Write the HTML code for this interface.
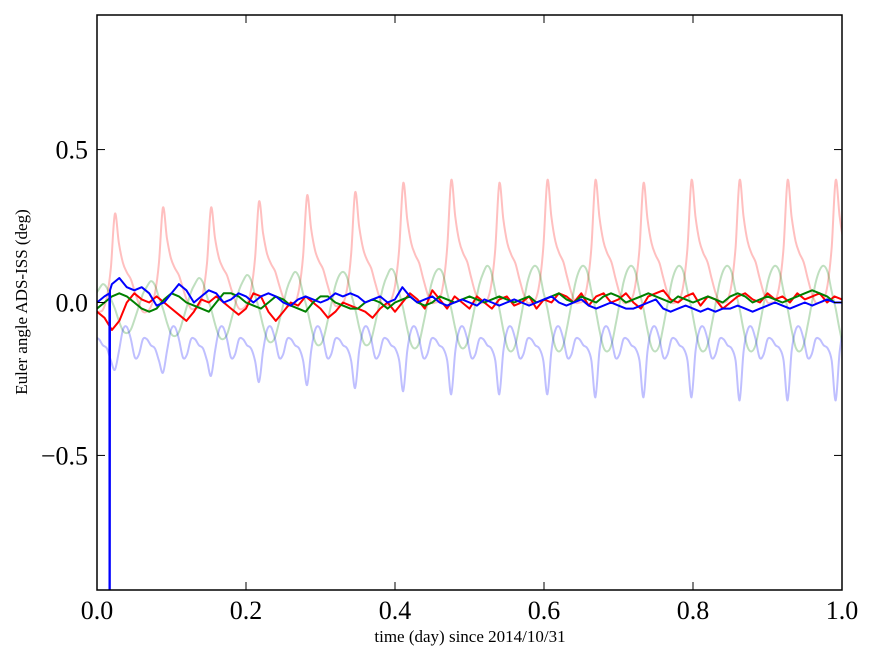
<!DOCTYPE html>
<html><head><meta charset="utf-8"><style>
html,body{margin:0;padding:0;background:#fff;}
svg{display:block;font-family:"Liberation Serif",serif;}
</style></head><body>
<svg id="chart" width="875" height="662">
<defs><clipPath id="plotclip"><rect x="97" y="15" width="745" height="575"/></clipPath></defs>
<rect x="0" y="0" width="875" height="662" fill="#fff"/>
<g id="series" clip-path="url(#plotclip)"></g>
<g id="axes"></g>
<text x="470" y="642" text-anchor="middle" font-size="17">time (day) since 2014/10/31</text>
<text transform="translate(27,302) rotate(-90)" text-anchor="middle" font-size="17">Euler angle ADS-ISS (deg)</text>
</svg>
<script>
const xTicks=[0,0.2,0.4,0.6,0.8,1.0];
const xTickLabels=["0.0","0.2","0.4","0.6","0.8","1.0"];
const yTicks=[0.5,0,-0.5];
const yTickLabels=["0.5","0.0","\u22120.5"];
const orbitPeriod=0.0645;
const firstPeak=0.024;
const redShape=[0.02,0.15,0.45,1.0,0.7,0.5,0.4,0.33,0.2,0.08,0.0,0.0];
const redPeaks=[0.28,0.29,0.31,0.31,0.33,0.35,0.36,0.39,0.40,0.39,0.40,0.40,0.39,0.40,0.40,0.40,0.40,0.40];
const redTroughs=[-0.03,-0.03,-0.02,-0.02,-0.01,-0.01,-0.01,0,0,0,0,0,0,0,0,0,0,0];
const greenShape=[1,0.85,0.4,0.0,-0.5,-0.9,-1,-0.85,-0.4,0.1,0.6,0.9];
const greenAmps=[0.07,0.08,0.09,0.1,0.11,0.12,0.12,0.13,0.13,0.14,0.14,0.14,0.14,0.14,0.14,0.14,0.14,0.14];
const greenCenter=-0.02;
const blueShape=[-0.14,-0.15,-0.19,-0.22,-0.16,-0.09,-0.08,-0.12,-0.18,-0.17,-0.12,-0.12];
const blueDips=[-0.21,-0.22,-0.23,-0.24,-0.26,-0.27,-0.28,-0.29,-0.3,-0.3,-0.3,-0.31,-0.31,-0.31,-0.32,-0.32,-0.32,-0.32];
const redDark=[-0.03,-0.05,-0.09,-0.06,0.0,0.03,0.01,0.0,0.02,0.0,-0.02,-0.04,-0.06,-0.03,0.01,0.0,0.02,0.0,-0.02,-0.04,-0.02,0.03,0.02,-0.03,-0.06,-0.03,0.0,-0.01,0.02,0.0,-0.02,-0.05,-0.03,0.0,-0.01,-0.02,-0.03,-0.05,-0.02,0.0,-0.03,0.0,0.03,0.01,-0.02,0.04,0.01,-0.02,0.02,0.0,-0.02,0.02,0.0,-0.02,0.01,0.02,-0.01,0.0,0.02,-0.02,0.01,0.0,0.03,0.02,0.0,0.03,-0.01,0.02,0.03,0.0,0.01,0.03,0.0,-0.02,0.02,0.03,0.04,0.01,0.0,0.02,0.03,-0.01,0.02,0.01,-0.02,0.0,0.02,0.03,0.01,0.0,0.03,0.01,0.02,0.0,0.03,0.01,0.02,0.03,0.0,0.02,0.01];
const greenDark=[-0.02,0.0,0.02,0.03,0.02,0.0,-0.02,-0.03,-0.02,0.01,0.03,0.02,0.0,-0.01,-0.02,-0.03,0.0,0.03,0.03,0.02,0.0,-0.01,-0.02,0.0,0.02,0.01,-0.01,-0.02,-0.03,0.0,0.02,0.02,0.0,-0.01,-0.02,-0.02,0.0,0.01,0.0,-0.02,0.0,0.01,0.02,0.0,-0.01,0.0,0.02,0.01,0.0,0.01,0.02,0.01,0.0,0.01,0.02,0.01,0.0,0.01,0.02,0.0,0.01,0.02,0.03,0.01,0.0,0.02,0.01,0.0,0.02,0.03,0.02,0.0,0.01,0.02,0.03,0.02,0.01,0.0,0.02,0.01,0.0,0.01,0.02,0.01,0.0,0.02,0.03,0.02,0.0,0.01,0.02,0.01,0.0,0.01,0.02,0.03,0.04,0.03,0.02,0.0,0.0];
const blueDark=[0.0,0.02,0.06,0.08,0.05,0.04,0.05,0.03,-0.01,0.0,0.03,0.06,0.04,0.0,0.02,0.04,0.03,0.0,0.01,0.03,0.02,0.0,0.02,0.03,0.02,0.0,-0.01,0.01,0.02,0.01,0.0,0.01,0.03,0.02,0.03,0.02,0.0,0.01,0.02,0.0,0.01,0.05,0.02,0.0,0.01,0.02,0.0,-0.01,0.0,0.01,0.0,-0.01,0.01,0.0,-0.01,0.0,0.01,0.0,-0.01,0.0,0.01,0.02,0.0,-0.01,0.0,0.01,-0.01,-0.02,-0.01,0.0,-0.01,-0.02,-0.02,-0.01,0.0,0.01,-0.02,-0.03,-0.02,-0.01,-0.02,-0.03,-0.02,-0.03,-0.02,-0.02,-0.01,-0.02,-0.03,-0.02,-0.01,0.0,-0.01,-0.02,-0.01,0.0,-0.01,0.0,0.01,0.0,0.0];
const spikeT=[0.0166,0.0168,0.0172,0.0174];
const spikeV=[0.03,-1.0,-1.0,0.04];

const X0=97,X1=842,Y0=15,Y1=590,yMin=-0.94,yMax=0.94;
function xs(t){return X0+(X1-X0)*t;}
function ys(v){return Y1-(Y1-Y0)*(v-yMin)/(yMax-yMin);}
const NS="http://www.w3.org/2000/svg";
const gS=document.getElementById('series'),gA=document.getElementById('axes');
function poly(pts,color,op,name){
  const p=document.createElementNS(NS,'polyline');
  p.setAttribute('points',pts.map(q=>xs(q[0]).toFixed(1)+','+ys(q[1]).toFixed(1)).join(' '));
  p.setAttribute('fill','none');p.setAttribute('stroke',color);p.setAttribute('stroke-width','2');
  p.setAttribute('stroke-opacity',op);p.setAttribute('stroke-linejoin','round');
  
  
  gS.appendChild(p);
}
function smooth(pts,color,op,name){
  const P=pts.map(q=>[xs(q[0]),ys(q[1])]);
  let d='M'+P[0][0].toFixed(1)+','+P[0][1].toFixed(1);
  for(let i=0;i<P.length-1;i++){
    const p0=P[Math.max(0,i-1)],p1=P[i],p2=P[i+1],p3=P[Math.min(P.length-1,i+2)];
    const c1=[p1[0]+(p2[0]-p0[0])/6,p1[1]+(p2[1]-p0[1])/6];
    const c2=[p2[0]-(p3[0]-p1[0])/6,p2[1]-(p3[1]-p1[1])/6];
    d+='C'+c1[0].toFixed(1)+','+c1[1].toFixed(1)+' '+c2[0].toFixed(1)+','+c2[1].toFixed(1)+' '+p2[0].toFixed(1)+','+p2[1].toFixed(1);
  }
  const p=document.createElementNS(NS,'path');
  p.setAttribute('d',d);p.setAttribute('fill','none');p.setAttribute('stroke',color);
  p.setAttribute('stroke-width','2');p.setAttribute('stroke-opacity',op);
  
  
  gS.appendChild(p);
}
function orbitSeries(fn){
  const pts=[];
  for(let k=0;k<redPeaks.length;k++){
    for(let j=0;j<12;j++){
      const t=firstPeak+(k-1)*orbitPeriod+(j-3)*orbitPeriod/12;
      pts.push([t,fn(k,j)]);
    }
  }
  return pts;
}
smooth(orbitSeries((k,j)=>redTroughs[k]+(redPeaks[k]-redTroughs[k])*redShape[j]),'#ff0000',0.25,'faint-red-series');
smooth(orbitSeries((k,j)=>greenCenter+greenAmps[k]*greenShape[j]),'#008000',0.25,'faint-green-series');
smooth(orbitSeries((k,j)=>j===3?blueDips[k]:blueShape[j]),'#0000ff',0.25,'faint-blue-series');
function dark(arr){return arr.map((v,i)=>[i/(arr.length-1),v]);}
poly(dark(redDark),'#ff0000',1,'red-series');
poly(dark(greenDark),'#008000',1,'green-series');
let bpts=dark(blueDark).concat(spikeT.map((t,i)=>[t,spikeV[i]])).sort((a,b)=>a[0]-b[0]);
poly(bpts,'#0000ff',1,'blue-series');

const fr=document.createElementNS(NS,'rect');
fr.setAttribute('x',X0);fr.setAttribute('y',Y0);fr.setAttribute('width',X1-X0);fr.setAttribute('height',Y1-Y0);
fr.setAttribute('fill','none');fr.setAttribute('stroke','#000');fr.setAttribute('stroke-width','1.5');


gA.appendChild(fr);
function line(x1,y1,x2,y2,name){
  const l=document.createElementNS(NS,'line');
  l.setAttribute('x1',x1);l.setAttribute('y1',y1);l.setAttribute('x2',x2);l.setAttribute('y2',y2);
  l.setAttribute('stroke','#000');l.setAttribute('stroke-width','1');
  
  
  gA.appendChild(l);
}
function label(x,y,txt,anchor,name){
  const t=document.createElementNS(NS,'text');
  t.setAttribute('x',x);t.setAttribute('y',y);t.setAttribute('text-anchor',anchor);t.setAttribute('font-size','26');
  t.textContent=txt;
  
  
  gA.appendChild(t);
}
xTicks.forEach((t,i)=>{
  const x=xs(t);
  line(x,Y1,x,Y1-8,'x-tick');line(x,Y0,x,Y0+8,'x-tick-top');
  label(x,Y1+29,xTickLabels[i],'middle','x-tick-label');
});
yTicks.forEach((v,i)=>{
  const y=ys(v);
  line(X0,y,X0+8,y,'y-tick');line(X1,y,X1-8,y,'y-tick-right');
  label(X0-9,y+9,yTickLabels[i],'end','y-tick-label');
});
</script>
</body></html>
